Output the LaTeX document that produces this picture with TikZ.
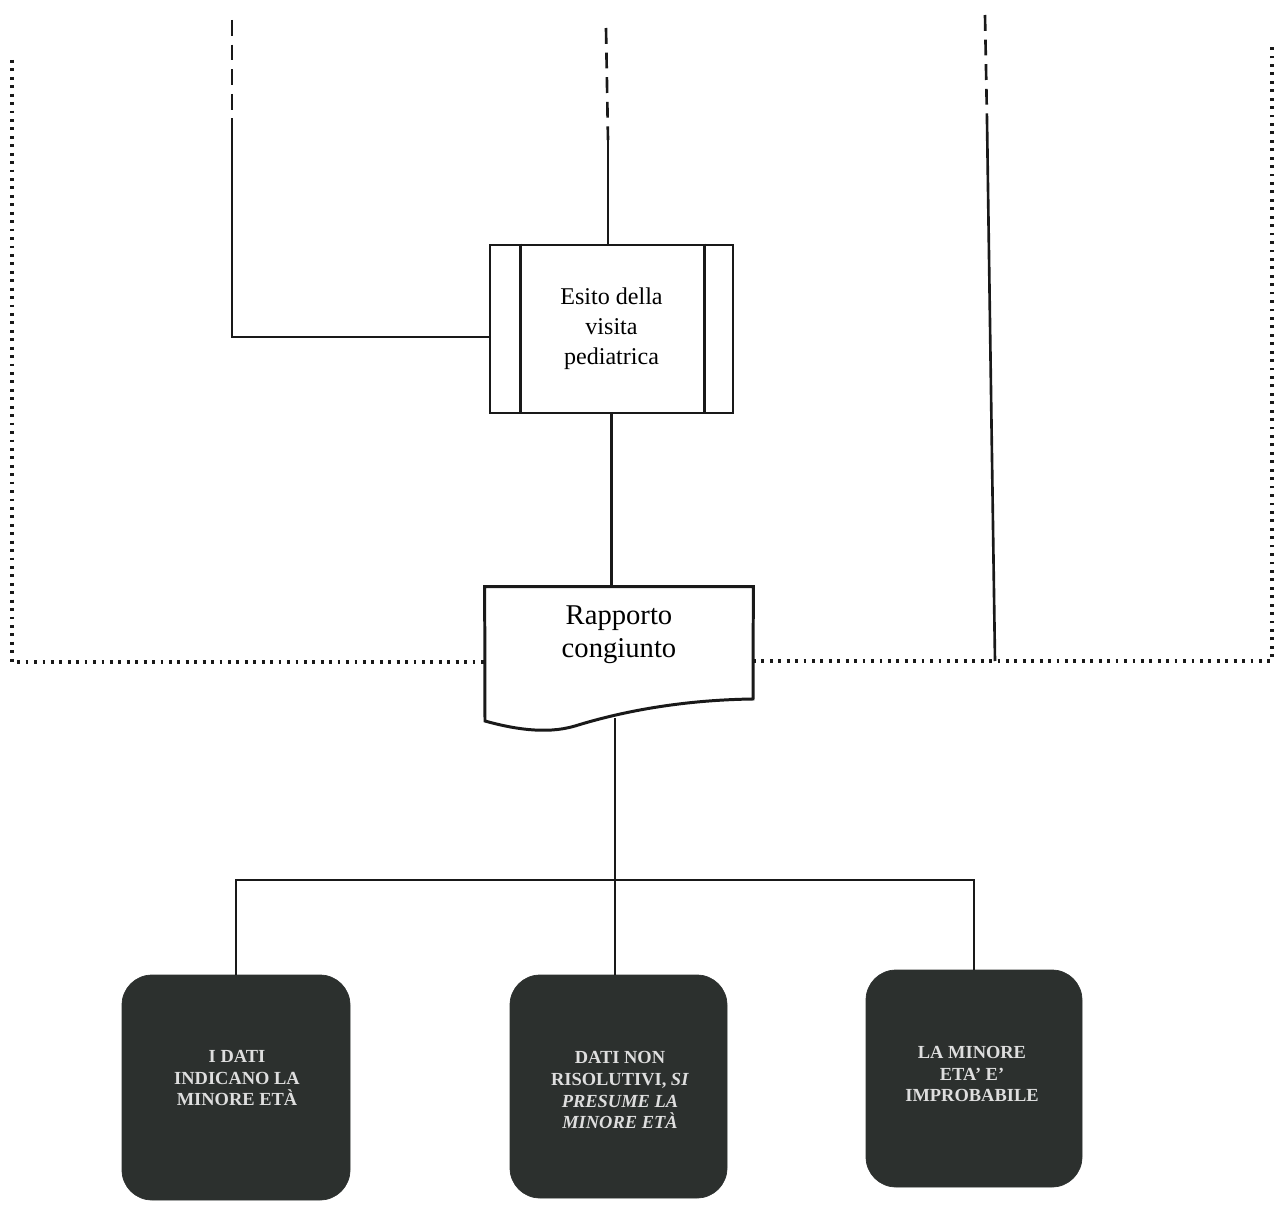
\documentclass[tikz,border=0pt]{standalone}
\usepackage{fontspec}
\setmainfont{Liberation Serif}
\definecolor{boxgray}{RGB}{44,48,46}
\definecolor{textgray}{RGB}{222,222,222}
\definecolor{inkc}{RGB}{25,25,25}
\begin{document}
\begin{tikzpicture}[x=0.02cm,y=-0.02cm,
  conn/.style={line width=1.5pt, draw=inkc},
  dotline/.style={line width=2.2pt, draw=inkc, dash pattern=on 1.6pt off 3.2pt},
  dashline/.style={line width=1.5pt, draw=inkc, dash pattern=on 9pt off 5pt},
  framebox/.style={draw=inkc, line width=1.7pt, minimum width=243*0.02cm, minimum height=168*0.02cm, align=center, inner sep=0pt},
  darkbox/.style={rounded corners=0.6cm, fill=boxgray, draw=boxgray, inner sep=0pt},
  darktext/.style={text=textgray, align=center, font=\bfseries\fontsize{10.5}{12.5}\selectfont, inner sep=0pt}]
\useasboundingbox (0,0) rectangle (1279,1213);

% dotted frame
\coordinate (dtl) at (12,60);
\coordinate (dbl) at (12,662);
\coordinate (dl) at (485,662);
\coordinate (dr) at (753,661);
\coordinate (dbr) at (1272,661);
\coordinate (dtr) at (1272,47);
\draw[dotline] (dtl) -- (dbl) -- (dl);
\draw[dotline] (dr) -- (dbr) -- (dtr);

% Esito della visita pediatrica
\node[framebox, font=\fontsize{13.7}{17}\selectfont] (es) at (611.5,329) {Esito della\\visita\\pediatrica};
\draw[inkc, line width=1.7pt] ([xshift=32*0.02cm]es.north west) -- ([xshift=32*0.02cm]es.south west);
\draw[inkc, line width=1.7pt] ([xshift=-30*0.02cm]es.north east) -- ([xshift=-30*0.02cm]es.south east);

% Rapporto congiunto (document shape)
\node[minimum width=268*0.02cm, minimum height=131*0.02cm, inner sep=0pt] (rapbox) at (619,652.5) {};
\draw[inkc, line width=1.7pt, fill=white] (rapbox.north west) -- (rapbox.north east) -- (753,699)
  .. controls (680,700) and (620,712) .. (575,726)
  .. controls (545,735) and (510,728) .. (485,721) -- cycle;
\node[font=\fontsize{16.3}{18.7}\selectfont, align=center, inner sep=0pt] (rap) at (619,635) {Rapporto\\congiunto};

% incoming lines from above
\coordinate (ltop) at (232,20);
\coordinate (lmid) at (232,125);
\draw[dashline] (ltop) -- (lmid);
\draw[conn] (lmid) |- ([yshift=-0.16cm]es.west);

\coordinate (mtop) at (606,28);
\coordinate (mmid) at (608,140);
\draw[dashline] (mtop) -- (mmid);
\draw[conn] (mmid) -- (es.north -| mmid);

\coordinate (rtop) at (985,15);
\coordinate (rmid) at (987,120);
\coordinate (rbot) at (995,661);
\draw[dashline] (rtop) -- (rmid);
\draw[conn] (rmid) -- (rbot);

\draw[conn] (es.south) -- (es.south |- rapbox.north);

% outcome boxes
\node[darkbox, minimum width=228*0.02cm, minimum height=225*0.02cm] (b1) at (236,1087.5) {};
\node[darkbox, minimum width=217*0.02cm, minimum height=223*0.02cm] (b2) at (618.5,1086.5) {};
\node[darkbox, minimum width=216*0.02cm, minimum height=217*0.02cm] (b3) at (974,1078.5) {};
\node[darktext] (t1) at (237,1078) {I DATI\\INDICANO LA\\MINORE ETÀ};
\node[darktext] (t2) at (620,1090) {DATI NON\\RISOLUTIVI, \textit{SI}\\\textit{PRESUME LA}\\\textit{MINORE ETÀ}};
\node[darktext] (t3) at (972,1074) {LA MINORE\\ETA' E'\\IMPROBABILE};

% tree connectors
\coordinate (bus) at (615,880);
\draw[conn] (bus |- rapbox.south) -- (bus);
\draw[conn] (b1.north) |- (bus) -| (b3.north);
\draw[conn] (bus) -- (bus |- b2.north);
\end{tikzpicture}
\end{document}
